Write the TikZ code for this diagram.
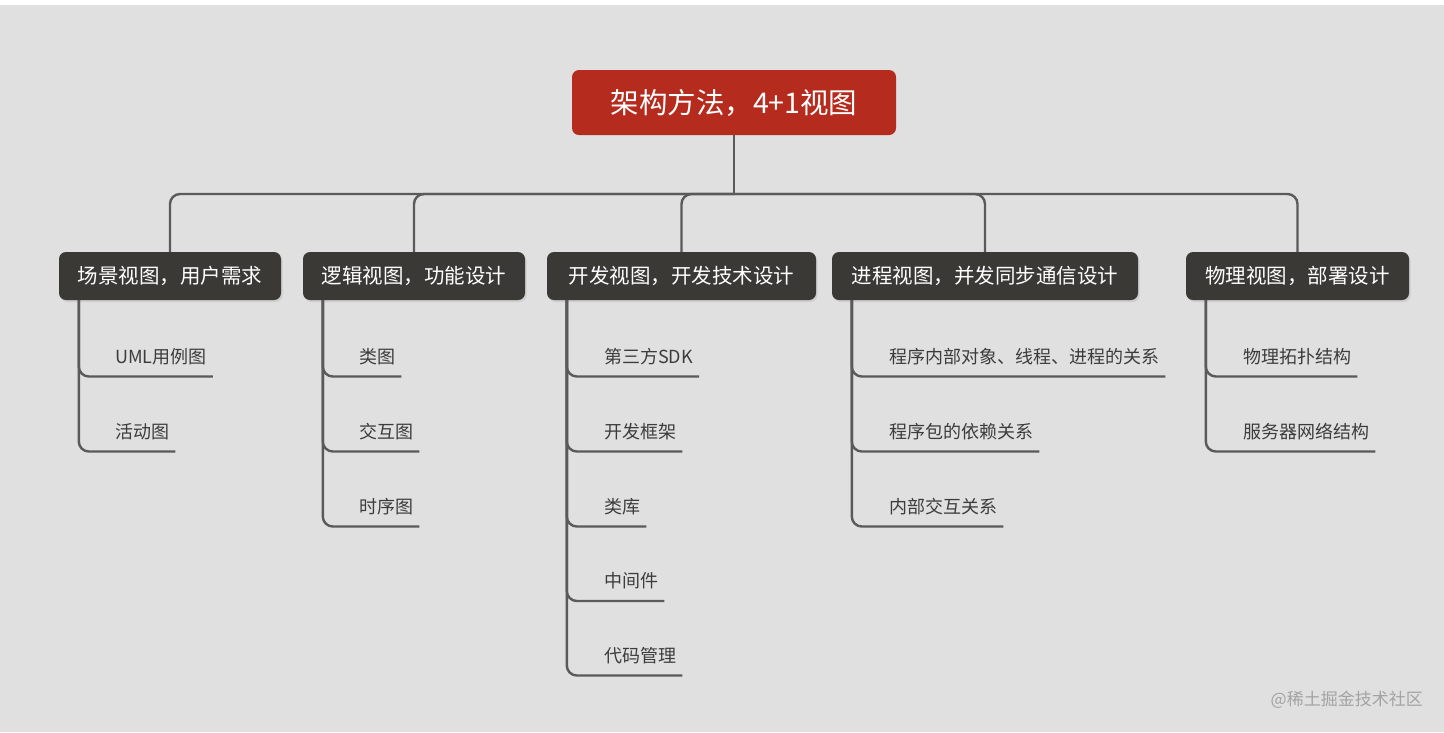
\documentclass[tikz,border=0pt]{standalone}
\usepackage{fontspec}
\setmainfont{Noto Sans CJK SC}
\usetikzlibrary{calc,shadows}
\definecolor{bg}{HTML}{E0E0E0}
\definecolor{rootred}{HTML}{B52B1E}
\definecolor{topicdark}{HTML}{3A3935}
\definecolor{linegray}{HTML}{5A5A5A}
\definecolor{itemtext}{HTML}{3C3C3C}
\definecolor{wmgray}{HTML}{A3A3A3}
\newcommand{\myitem}[5]{%
  \node[item] (#2) at (#3,#4+3.5) {#5};
  \draw[conn] ($(#1.south west)+(20,0)$) |- ($(#2.east)+(6,17)$);
}
\begin{document}
\begin{tikzpicture}[x=1pt,y=-1pt,
  rootbox/.style={fill=rootred, rounded corners=7pt, text=white,
    font=\fontsize{28.5}{33}\selectfont, minimum width=324pt, minimum height=65pt, inner sep=0pt},
  topic/.style={fill=topicdark, rounded corners=7pt, text=white,
    font=\fontsize{20.5}{24}\selectfont, minimum height=48pt, inner sep=0pt,
    drop shadow={opacity=0.18, shadow xshift=1.5pt, shadow yshift=-2pt}},
  item/.style={anchor=west, inner sep=0pt, text=itemtext, text height=0.88em, text depth=0.12em,
    font=\fontsize{18}{22}\selectfont},
  conn/.style={draw=linegray, line width=2.4pt, rounded corners=10pt},
  trunk/.style={draw=linegray, line width=2.4pt}]
\fill[white] (0,0) rectangle (1444,732);
\fill[bg] (0,5) rectangle (1444,732);
\useasboundingbox (0,0) rectangle (1444,732);

\node[rootbox] (root) at (734,102.5) {架构方法，4+1视图};

\node[topic, minimum width=222pt] (t1) at (170,276) {场景视图，用户需求};
\node[topic, minimum width=222pt] (t2) at (414,276) {逻辑视图，功能设计};
\node[topic, minimum width=269pt] (t3) at (681.5,276) {开发视图，开发技术设计};
\node[topic, minimum width=306pt] (t4) at (985,276) {进程视图，并发同步通信设计};
\node[topic, minimum width=223pt] (t5) at (1297.5,276) {物理视图，部署设计};

\coordinate (bar) at (734,194);
\draw[trunk] (root.south) -- (bar);
\foreach \t in {t1,t2,t3,t4,t5}{
  \draw[conn] (bar) -| (\t.north);
}

\myitem{t1}{i11}{115}{356}{UML用例图}
\myitem{t1}{i12}{115}{431}{活动图}

\myitem{t2}{i21}{359}{356}{类图}
\myitem{t2}{i22}{359}{431}{交互图}
\myitem{t2}{i23}{359}{506}{时序图}

\myitem{t3}{i31}{604}{356}{第三方SDK}
\myitem{t3}{i32}{604}{431}{开发框架}
\myitem{t3}{i33}{604}{506}{类库}
\myitem{t3}{i34}{604}{580.5}{中间件}
\myitem{t3}{i35}{604}{655}{代码管理}

\myitem{t4}{i41}{889}{356}{程序内部对象、线程、进程的关系}
\myitem{t4}{i42}{889}{431}{程序包的依赖关系}
\myitem{t4}{i43}{889}{506}{内部交互关系}

\myitem{t5}{i51}{1243}{356}{物理拓扑结构}
\myitem{t5}{i52}{1243}{431}{服务器网络结构}

\node[anchor=east, inner sep=0pt, text=wmgray, font=\fontsize{17}{20}\selectfont] (wm) at (1423,700) {@稀土掘金技术社区};
\end{tikzpicture}
\end{document}
